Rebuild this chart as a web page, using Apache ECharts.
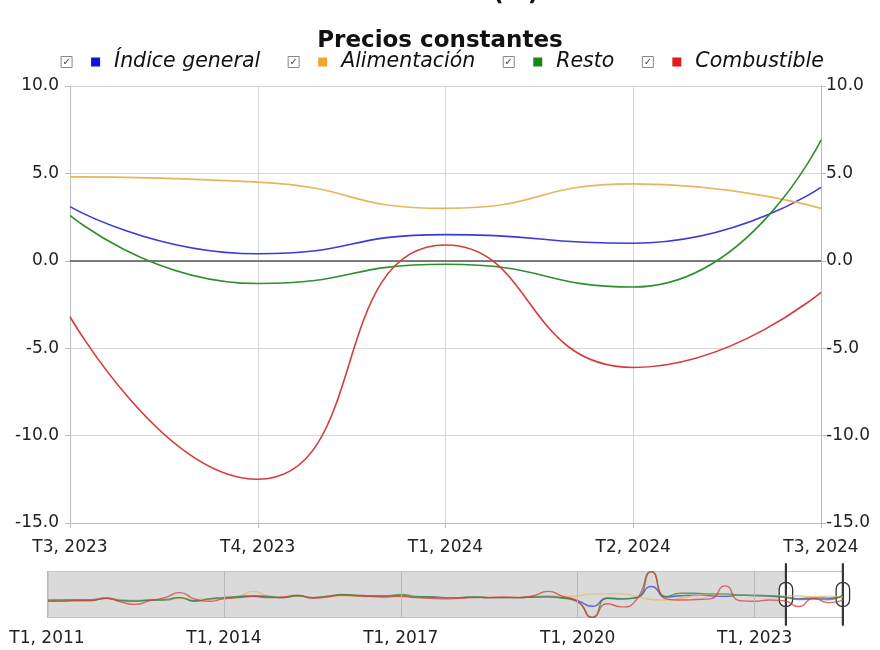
<!DOCTYPE html>
<html>
<head>
<meta charset="utf-8">
<script src="https://cdn.jsdelivr.net/npm/echarts@6/dist/echarts.min.js"></script>
<style>html,body{margin:0;padding:0;background:#fff}#c{width:880px;height:650px}</style>
</head>
<body>
<div id="c"></div>
<script>
// Quarterly categories T1, 2011 ... T3, 2024
var categories = [];
for (var y = 2011; y <= 2024; y++) {
  for (var q = 1; q <= 4; q++) {
    if (y === 2024 && q > 3) break;
    categories.push('T' + q + ', ' + y);
  }
}
var seriesNames = ['Índice general', 'Alimentación', 'Resto', 'Combustible'];

var general = [
  -3, -2.5, -2, -1.5,   1, -2, -3, -2,   -1, 2, -3, 0,   1, 3, 4, 3,
  2, 5, 2, 4,   6, 5, 4, 4,   5, 3, 3, 2,   2, 3, 2, 2,
  2, 3, 4, 2,   -3, -12, 1, 0,   2, 20, 3, 5,   6, 5, 4, 6,
  5, 4, 3.1, 0.4,   1.5, 1.0, 4.2
];
var alimentacion = [
  -3, -3, -2, -2,   2, -1, -2, -1,   -1, 1, -1, 0,   1, 4, 12, 5,
  3, 4, 2, 4,   5, 4, 3, 4,   4, 3, 2, 2,   2, 3, 3, 2,
  3, 4, 5, 4,   5, 8, 8, 8,   4, -1, -2, 1,   5, 7, 6, 6,
  5, 5, 4.8, 4.5,   3.0, 4.4, 3.0
];
var resto = [
  -2, -2, -2, -2,   1, -3, -4, -2,   -2, 2, -4, 0,   2, 4, 5, 4,
  2, 5, 2, 4,   7, 6, 5, 5,   7, 4, 3, 2,   2, 3, 2, 2,
  2, 3, 3, 1,   -5, -30, 1, 0,   2, 44, 4, 9,   9, 8, 8, 6,
  6, 5, 2.6, -1.3,   -0.2, -1.5, 6.9
];
var combustible = [
  -4, -4, -3, -3,   1, -5, -9, -3,   2, 10, 0, -4,   0, 2, 4, 2,
  3, 6, 1, 3,   6, 5, 4, 3,   4, 2, 1, 0,   1, 2, 2, 3,
  2, 5, 12, 4,   -4, -30, -8, -13,   -1, 44, 0, -2,   -1, 0, 21, -3,
  -4, -2, -3.2, -12.5,   0.9, -6.1, -1.8
];
var yTicks = [-15, -10, -5, 0, 5, 10];

var allData = [general, alimentacion, resto, combustible];
var lineColors = ['#3a3ad6', '#e8b65c', '#2f8f2f', '#d63b3b'];
var keyColors = ['#1212d8', '#f2a72a', '#158a15', '#e21a1a'];
var FONT = 'DejaVu Sans';

var chart = echarts.init(document.getElementById('c'), null, {renderer: 'canvas'});

var rich = {
  cb: {width: 11, height: 11, borderColor: '#888', borderWidth: 1, align: 'center',
       fontSize: 10, color: '#444', fontFamily: FONT, lineHeight: 11},
  g1: {width: 19}, g2: {width: 14},
  t: {fontStyle: 'italic', fontSize: 20.5, color: '#111', fontFamily: FONT}
};
keyColors.forEach(function (c, i) {
  rich['sq' + i] = {width: 9, height: 9, backgroundColor: c};
});

var mainSeries = seriesNames.map(function (n, i) {
  var s = {
    name: n, type: 'line', xAxisIndex: 0, yAxisIndex: 0,
    data: allData[i], smooth: 0.55, symbol: 'none',
    lineStyle: {color: lineColors[i], width: 1.6},
    itemStyle: {color: keyColors[i]}, z: 3
  };
  if (i === 0) {
    s.markLine = {silent: true, symbol: 'none', label: {show: false},
      lineStyle: {color: '#555', width: 1.5, type: 'solid'},
      data: [{yAxis: 0}], z: 2};
  }
  return s;
});
var navSeries = seriesNames.map(function (n, i) {
  return {
    name: n + ' nav', type: 'line', xAxisIndex: 1, yAxisIndex: 2,
    data: allData[i], smooth: 0.6, symbol: 'none', silent: true,
    lineStyle: {color: lineColors[i], width: 1.4, opacity: 0.75}, z: 6
  };
});

var tickLabel = {fontFamily: FONT, fontSize: 17, color: '#222'};

chart.setOption({
  animation: false,
  title: [
    {text: 'Tasa anual (%)', left: 'center', top: -23,
     textStyle: {fontFamily: FONT, fontWeight: 'bold', fontSize: 24, color: '#111'}},
    {text: 'Precios constantes', left: 'center', top: 25,
     textStyle: {fontFamily: FONT, fontWeight: 'bold', fontSize: 23, color: '#111'}}
  ],
  legend: {
    data: seriesNames, top: 47, left: 'center', icon: 'none',
    itemWidth: 0, itemHeight: 0, itemGap: 23, selectedMode: false,
    formatter: function (name) {
      var i = seriesNames.indexOf(name);
      return '{cb|✓}{g1| }{sq' + i + '| }{g2| }{t|' + name + '}';
    },
    textStyle: {rich: rich, fontFamily: FONT}
  },
  grid: [
    {left: 70, right: 59, top: 86, bottom: 127},
    {left: 47, right: 37, top: 571, height: 47}
  ],
  xAxis: [
    {type: 'category', gridIndex: 0, data: categories, boundaryGap: false,
     axisLine: {onZero: false, lineStyle: {color: '#bbb'}},
     axisTick: {show: true, interval: 0, length: 5, lineStyle: {color: '#bbb'}},
     axisLabel: Object.assign({interval: 0, margin: 16}, tickLabel),
     splitLine: {show: true, interval: 0, lineStyle: {color: '#d6d6d6'}}},
    {type: 'category', gridIndex: 1, data: categories, boundaryGap: false, z: 7,
     axisLine: {show: false},
     axisTick: {show: true, interval: 11, length: 8, lineStyle: {color: '#bbb'}},
     axisLabel: Object.assign({interval: 11, margin: 12}, tickLabel),
     splitLine: {show: true, interval: 11, lineStyle: {color: '#b8b8b8'}}}
  ],
  yAxis: [
    {type: 'value', gridIndex: 0, min: -15, max: 10, interval: 5, position: 'left',
     axisLine: {show: true, lineStyle: {color: '#bbb'}},
     axisTick: {show: true, length: 5, lineStyle: {color: '#bbb'}},
     axisLabel: Object.assign({margin: 11, formatter: function (v) { return v.toFixed(1); }}, tickLabel),
     splitLine: {lineStyle: {color: '#d6d6d6'}}},
    {type: 'value', gridIndex: 0, min: -15, max: 10, interval: 5, position: 'right',
     axisLine: {show: true, lineStyle: {color: '#bbb'}},
     axisTick: {show: true, length: 5, lineStyle: {color: '#bbb'}},
     axisLabel: Object.assign({margin: 5, formatter: function (v) { return v.toFixed(1); }}, tickLabel),
     splitLine: {show: false}},
    {type: 'value', gridIndex: 1, min: -31, max: 45, show: false, splitLine: {show: false}}
  ],
  dataZoom: [{
    type: 'slider', xAxisIndex: 0, filterMode: 'filter',
    startValue: 'T3, 2023', endValue: 'T3, 2024',
    left: 47, right: 37, top: 571, height: 47, z: 4,
    backgroundColor: '#dadada', fillerColor: '#ffffff', borderColor: '#c4c4c4',
    showDataShadow: false, showDetail: false, brushSelect: false, moveHandleSize: 0,
    handleIcon: 'path://M11.3,0 H12.7 V100 H11.3 Z M1,41 A11,11 0 0 1 23,41 V59 A11,11 0 0 1 1,59 Z',
    handleSize: '130%',
    handleStyle: {color: '#ffffff', borderColor: '#333', borderWidth: 1.3},
    emphasis: {handleStyle: {color: '#ffffff', borderColor: '#333', borderWidth: 1.3}}
  }],
  series: mainSeries.concat(navSeries)
});
</script>
</body>
</html>
